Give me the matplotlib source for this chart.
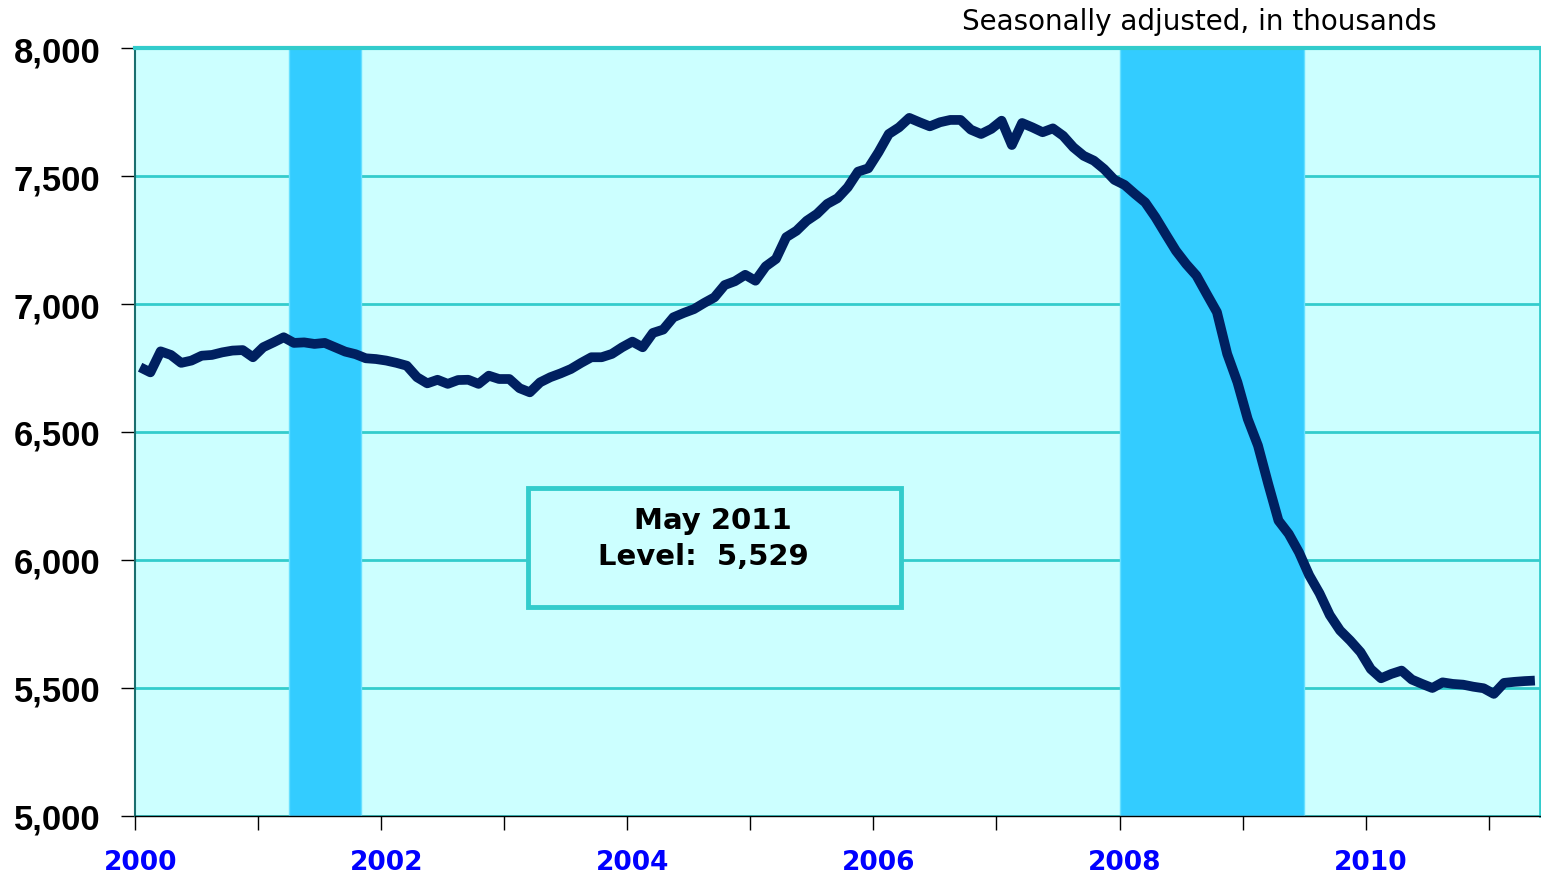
import numpy as np
import pandas as pd
import matplotlib
matplotlib.use('Agg')
import matplotlib.pyplot as plt
from matplotlib.patches import Rectangle

# Monthly level, seasonally adjusted, thousands (Jan 2000 - May 2011)
months = pd.period_range('2000-01', '2011-05', freq='M')
employment = [
    6753, 6733, 6815, 6801, 6770, 6779, 6798, 6801, 6811, 6818, 6820, 6792,  # 2000
    6831, 6850, 6870, 6848, 6850, 6844, 6848, 6831, 6814, 6804, 6788, 6785,  # 2001
    6779, 6770, 6759, 6714, 6690, 6704, 6688, 6703, 6704, 6688, 6720, 6707,  # 2002
    6707, 6671, 6655, 6694, 6714, 6729, 6746, 6770, 6792, 6792, 6805, 6831,  # 2003
    6853, 6831, 6887, 6900, 6948, 6965, 6980, 7004, 7026, 7074, 7089, 7114,  # 2004
    7091, 7147, 7176, 7261, 7286, 7325, 7352, 7391, 7413, 7456, 7517, 7530,  # 2005
    7593, 7664, 7690, 7727, 7710, 7694, 7710, 7719, 7719, 7681, 7664, 7684,  # 2006
    7716, 7621, 7707, 7690, 7671, 7686, 7657, 7612, 7579, 7560, 7527, 7485,  # 2007
    7465, 7430, 7397, 7339, 7273, 7208, 7156, 7111, 7039, 6968, 6805, 6694,  # 2008
    6551, 6447, 6297, 6154, 6102, 6030, 5940, 5870, 5785, 5725, 5685, 5640,  # 2009
    5574, 5538, 5555, 5568, 5533, 5516, 5500, 5522, 5516, 5513, 5505, 5499,  # 2010
    5477, 5520, 5524, 5527, 5529,                                            # 2011
]

# recession periods (first and last month shaded)
recession_start = ['2001-04', '2008-01']
recession_end = ['2001-10', '2009-06']

year_labels = ['2000', '2002', '2004', '2006', '2008', '2010']
y_ticks = [5000, 5500, 6000, 6500, 7000, 7500, 8000]

note = 'Seasonally adjusted, in thousands'
box_line1 = 'May 2011'
box_line2 = 'Level:  5,529'

plt.rcParams['font.family'] = ['Liberation Sans', 'DejaVu Sans']

navy = '#002060'
teal = '#33CCCC'
light = '#CCFFFF'
shade = '#33CCFF'

fig = plt.figure(figsize=(15.41, 8.78), dpi=100)
ax = fig.add_axes([135/1541, 61/878, 1405/1541, 768/878])
ax.set_facecolor(light)

n = len(months)
x = np.arange(n) + 0.5

# recession bars
for s, e in zip(recession_start, recession_end):
    i0 = months.get_loc(pd.Period(s, freq='M'))
    i1 = months.get_loc(pd.Period(e, freq='M')) + 1
    ax.axvspan(i0, i1, facecolor=shade, edgecolor='#66E0FF', lw=1, zorder=1)

ax.plot(x, employment, color=navy, lw=7, solid_joinstyle='round',
        solid_capstyle='butt', zorder=3)

ax.set_xlim(0, n)
ax.set_ylim(5000, 8000)

# gridlines
ax.set_yticks(y_ticks)
ax.set_yticklabels(['{:,}'.format(v) for v in y_ticks])
ax.yaxis.grid(True, color=teal, lw=2)
ax.set_axisbelow(True)
ax.tick_params(axis='y', length=10, width=1, pad=15, labelsize=25, color='black')
for lab in ax.get_yticklabels():
    lab.set_fontweight('bold')

# year ticks every 12 months, labels on January of every second year
ax.set_xticks(np.arange(0, n, 12))
ax.set_xticklabels([])
ax.tick_params(axis='x', which='major', length=10, width=1, color='black')
first = [months.get_loc(pd.Period(y + '-01', freq='M')) + 0.5 for y in year_labels]
ax.set_xticks(first, minor=True)
ax.set_xticklabels(year_labels, minor=True, fontsize=19, fontweight='bold',
                   color='#0000FF', family='DejaVu Sans')
ax.tick_params(axis='x', which='minor', length=0, pad=24)

ax.spines['top'].set_color(teal)
ax.spines['top'].set_linewidth(3)
ax.spines['right'].set_color(teal)
ax.spines['right'].set_linewidth(2)
ax.spines['left'].set_color('#1A6F6F')
ax.spines['left'].set_linewidth(1.5)
ax.spines['bottom'].set_color('black')
ax.spines['bottom'].set_linewidth(1)

# level box
ax.add_patch(Rectangle((0.2797, 0.2721), 0.2655, 0.155, transform=ax.transAxes,
                       facecolor=light, edgecolor=teal, lw=3.5, zorder=4))
ax.text(0.4114, 0.3854, box_line1, transform=ax.transAxes, ha='center', va='center',
        fontsize=21, fontweight='bold', family='DejaVu Sans', zorder=5)
ax.text(0.4046, 0.3385, box_line2, transform=ax.transAxes, ha='center', va='center',
        fontsize=21, fontweight='bold', family='DejaVu Sans', zorder=5)

fig.text(1437/1541, 1 - 22/878, note, ha='right', va='center', fontsize=20,
         family='DejaVu Sans')

fig.savefig('out.png', dpi=100)
